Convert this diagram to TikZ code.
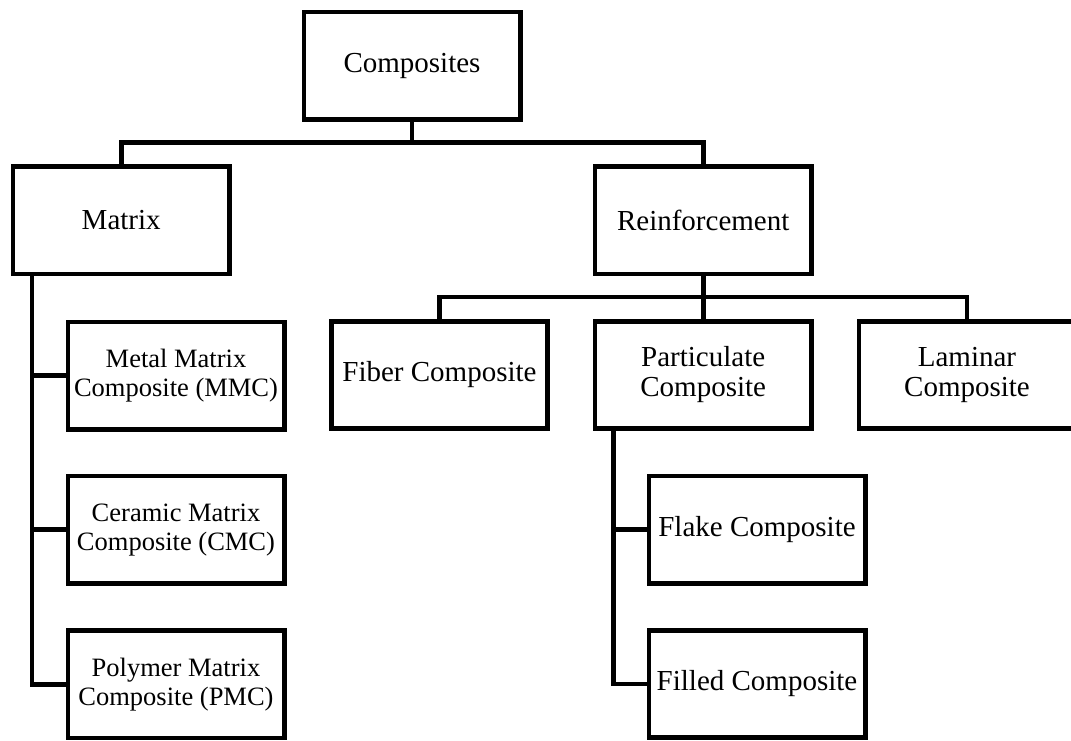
\documentclass[tikz,border=0pt]{standalone}
\usepackage{fontspec}
\setmainfont{Liberation Serif}
\begin{document}
\begin{tikzpicture}[x=1pt,y=-1pt,
  box/.style={draw, line width=4.7pt, minimum width=216.3pt, minimum height=107.3pt, inner sep=0pt, align=center, font=\fontsize{29}{30}\selectfont},
  subbox/.style={box, font=\fontsize{26.5}{29}\selectfont},
  conn/.style={line width=4.7pt}]
\useasboundingbox (0,0) rectangle (1071,740);
\clip (0,0) rectangle (1071,740);

\node[box] (comp) at (412,65.5) {Composites};
\node[box] (mat) at (121.2,220.3) {Matrix};
\node[box] (reinf) at (703.2,220.3) {Reinforcement};

\node[subbox] (mmc) at (176,375.5) {Metal Matrix\\Composite (MMC)};
\node[subbox] (cmc) at (176,529.7) {Ceramic Matrix\\Composite (CMC)};
\node[subbox] (pmc) at (176,684.3) {Polymer Matrix\\Composite (PMC)};

\node[box] (fib) at (439.5,375) {Fiber Composite};
\node[box] (part) at (703.2,375) {Particulate\\Composite};
\node[box] (lam) at (967,375) {Laminar\\Composite};

\node[box] (flake) at (757,529.5) {Flake Composite};
\node[box] (filled) at (757,684) {Filled Composite};

% top level
\coordinate (b1) at (412,142.8);
\draw[conn] (comp) -- (b1);
\draw[conn] (mat.north) |- (b1) -| (reinf.north);

% matrix branch
\coordinate (lm) at ([xshift=21.3pt]mat.south west);
\draw[conn] (lm) |- (pmc.west);
\draw[conn] (mmc.west) -- (mmc.west -| lm);
\draw[conn] (cmc.west) -- (cmc.west -| lm);

% reinforcement branch
\coordinate (b2) at (703.2,297);
\draw[conn] (reinf) -- (part);
\draw[conn] (fib.north) |- (b2) -| (lam.north);

% particulate branch
\coordinate (pm) at ([xshift=20.6pt]part.south west);
\draw[conn] (pm) |- (filled.west);
\draw[conn] (flake.west) -- (flake.west -| pm);
\end{tikzpicture}
\end{document}
